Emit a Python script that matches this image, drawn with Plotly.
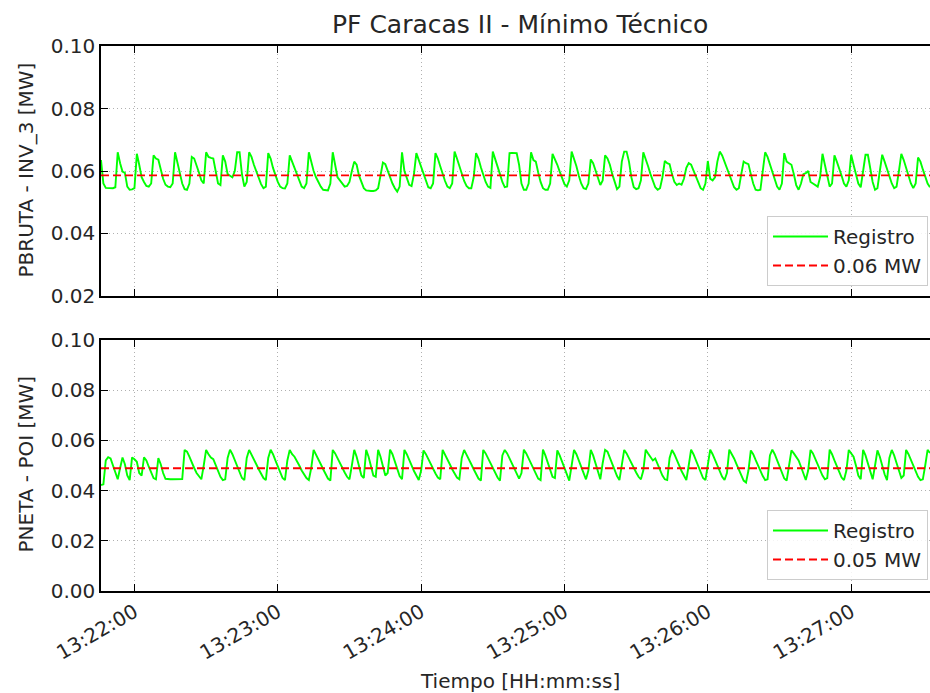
import pandas as pd
import plotly.graph_objects as go

# ---------------- data (1 s sampling, starting 13:21:46) ----------------
start_time = "2021-01-01 13:21:46"
sample_seconds = 1

pbruta_inv3 = [
    0.0635, 0.0560, 0.0546, 0.0545, 0.0545, 0.0545, 0.0548, 0.0660, 0.0625, 0.0598,
    0.0594, 0.0550, 0.0540, 0.0541, 0.0545, 0.0655, 0.0620, 0.0580, 0.0565, 0.0552,
    0.0550, 0.0560, 0.0650, 0.0640, 0.0636, 0.0600, 0.0575, 0.0556, 0.0550, 0.0548,
    0.0560, 0.0660, 0.0625, 0.0590, 0.0560, 0.0542, 0.0540, 0.0560, 0.0645, 0.0640,
    0.0620, 0.0595, 0.0570, 0.0560, 0.0660, 0.0645, 0.0642, 0.0640, 0.0600, 0.0560,
    0.0555, 0.0650, 0.0630, 0.0590, 0.0585, 0.0580, 0.0600, 0.0660, 0.0660, 0.0590,
    0.0550, 0.0565, 0.0660, 0.0645, 0.0620, 0.0598, 0.0575, 0.0558, 0.0545, 0.0550,
    0.0657, 0.0640, 0.0610, 0.0585, 0.0565, 0.0550, 0.0545, 0.0544, 0.0560, 0.0650,
    0.0630, 0.0605, 0.0585, 0.0565, 0.0550, 0.0545, 0.0560, 0.0660, 0.0630, 0.0600,
    0.0580, 0.0562, 0.0550, 0.0540, 0.0538, 0.0538, 0.0560, 0.0660, 0.0620, 0.0580,
    0.0570, 0.0560, 0.0550, 0.0552, 0.0565, 0.0600, 0.0630, 0.0620, 0.0585, 0.0565,
    0.0545, 0.0538, 0.0536, 0.0536, 0.0536, 0.0538, 0.0545, 0.0590, 0.0627, 0.0622,
    0.0600, 0.0580, 0.0560, 0.0545, 0.0534, 0.0550, 0.0660, 0.0600, 0.0575, 0.0556,
    0.0552, 0.0590, 0.0657, 0.0635, 0.0610, 0.0585, 0.0565, 0.0548, 0.0545, 0.0560,
    0.0657, 0.0640, 0.0615, 0.0590, 0.0568, 0.0550, 0.0545, 0.0560, 0.0662, 0.0640,
    0.0615, 0.0590, 0.0568, 0.0552, 0.0545, 0.0545, 0.0580, 0.0657, 0.0640, 0.0612,
    0.0588, 0.0565, 0.0550, 0.0546, 0.0662, 0.0640, 0.0615, 0.0590, 0.0565, 0.0548,
    0.0550, 0.0657, 0.0658, 0.0658, 0.0657, 0.0620, 0.0560, 0.0540, 0.0540, 0.0560,
    0.0660, 0.0635, 0.0630, 0.0595, 0.0565, 0.0545, 0.0540, 0.0540, 0.0560, 0.0655,
    0.0640, 0.0620, 0.0598, 0.0575, 0.0558, 0.0550, 0.0570, 0.0662, 0.0640, 0.0615,
    0.0585, 0.0560, 0.0545, 0.0542, 0.0560, 0.0637, 0.0625, 0.0600, 0.0575, 0.0555,
    0.0570, 0.0650, 0.0640, 0.0620, 0.0590, 0.0565, 0.0542, 0.0550, 0.0630, 0.0662,
    0.0662, 0.0630, 0.0580, 0.0548, 0.0542, 0.0545, 0.0570, 0.0660, 0.0640, 0.0615,
    0.0590, 0.0565, 0.0548, 0.0540, 0.0545, 0.0580, 0.0632, 0.0625, 0.0622, 0.0590,
    0.0565, 0.0555, 0.0560, 0.0556, 0.0575, 0.0610, 0.0625, 0.0620, 0.0600, 0.0580,
    0.0560, 0.0545, 0.0540, 0.0560, 0.0632, 0.0575, 0.0570, 0.0580, 0.0630, 0.0662,
    0.0650, 0.0630, 0.0610, 0.0590, 0.0565, 0.0548, 0.0540, 0.0545, 0.0590, 0.0630,
    0.0625, 0.0622, 0.0590, 0.0560, 0.0540, 0.0538, 0.0540, 0.0600, 0.0660, 0.0645,
    0.0620, 0.0595, 0.0570, 0.0550, 0.0540, 0.0560, 0.0657, 0.0630, 0.0625, 0.0620,
    0.0590, 0.0555, 0.0540, 0.0560, 0.0590, 0.0593, 0.0600, 0.0565, 0.0560, 0.0555,
    0.0550, 0.0580, 0.0655, 0.0620, 0.0580, 0.0550, 0.0560, 0.0650, 0.0630, 0.0610,
    0.0585, 0.0560, 0.0550, 0.0570, 0.0652, 0.0620, 0.0590, 0.0560, 0.0548, 0.0600,
    0.0652, 0.0652, 0.0610, 0.0565, 0.0540, 0.0545, 0.0600, 0.0652, 0.0630, 0.0605,
    0.0580, 0.0560, 0.0545, 0.0550, 0.0600, 0.0655, 0.0635, 0.0610, 0.0585, 0.0560,
    0.0545, 0.0560, 0.0643, 0.0630, 0.0605, 0.0580, 0.0560, 0.0548,
]

pneta_poi = [
    0.0422, 0.0425, 0.0520, 0.0533, 0.0528, 0.0500, 0.0470, 0.0445, 0.0490, 0.0532,
    0.0505, 0.0460, 0.0442, 0.0532, 0.0525, 0.0515, 0.0470, 0.0460, 0.0532, 0.0520,
    0.0495, 0.0470, 0.0450, 0.0445, 0.0529, 0.0505, 0.0470, 0.0447, 0.0445, 0.0445,
    0.0445, 0.0445, 0.0445, 0.0445, 0.0446, 0.0562, 0.0555, 0.0535, 0.0510, 0.0490,
    0.0470, 0.0455, 0.0445, 0.0500, 0.0562, 0.0545, 0.0532, 0.0525, 0.0500, 0.0475,
    0.0455, 0.0442, 0.0445, 0.0530, 0.0563, 0.0545, 0.0520, 0.0495, 0.0470, 0.0450,
    0.0442, 0.0530, 0.0562, 0.0545, 0.0525, 0.0505, 0.0485, 0.0465, 0.0450, 0.0442,
    0.0530, 0.0563, 0.0545, 0.0520, 0.0495, 0.0470, 0.0450, 0.0442, 0.0520, 0.0562,
    0.0545, 0.0535, 0.0520, 0.0500, 0.0480, 0.0462, 0.0450, 0.0442, 0.0490, 0.0562,
    0.0545, 0.0525, 0.0505, 0.0485, 0.0465, 0.0448, 0.0440, 0.0562, 0.0548, 0.0528,
    0.0508, 0.0490, 0.0472, 0.0455, 0.0445, 0.0500, 0.0562, 0.0535, 0.0495, 0.0460,
    0.0450, 0.0562, 0.0535, 0.0495, 0.0460, 0.0455, 0.0562, 0.0535, 0.0495, 0.0460,
    0.0470, 0.0563, 0.0545, 0.0515, 0.0485, 0.0458, 0.0445, 0.0562, 0.0545, 0.0525,
    0.0500, 0.0478, 0.0458, 0.0442, 0.0480, 0.0560, 0.0545, 0.0525, 0.0505, 0.0485,
    0.0468, 0.0452, 0.0445, 0.0562, 0.0545, 0.0525, 0.0505, 0.0485, 0.0468, 0.0452,
    0.0445, 0.0530, 0.0562, 0.0545, 0.0525, 0.0505, 0.0485, 0.0465, 0.0448, 0.0440,
    0.0562, 0.0548, 0.0528, 0.0508, 0.0488, 0.0470, 0.0452, 0.0440, 0.0540, 0.0562,
    0.0548, 0.0528, 0.0508, 0.0488, 0.0465, 0.0448, 0.0470, 0.0563, 0.0548, 0.0528,
    0.0505, 0.0485, 0.0465, 0.0448, 0.0442, 0.0563, 0.0540, 0.0510, 0.0480, 0.0455,
    0.0450, 0.0560, 0.0540, 0.0515, 0.0490, 0.0465, 0.0440, 0.0500, 0.0562, 0.0545,
    0.0520, 0.0495, 0.0470, 0.0445, 0.0480, 0.0562, 0.0540, 0.0505, 0.0470, 0.0445,
    0.0510, 0.0562, 0.0555, 0.0530, 0.0505, 0.0480, 0.0458, 0.0442, 0.0510, 0.0562,
    0.0548, 0.0528, 0.0508, 0.0490, 0.0472, 0.0455, 0.0445, 0.0480, 0.0563, 0.0548,
    0.0535, 0.0520, 0.0528, 0.0505, 0.0480, 0.0460, 0.0445, 0.0442, 0.0530, 0.0562,
    0.0545, 0.0525, 0.0500, 0.0478, 0.0458, 0.0442, 0.0500, 0.0563, 0.0545, 0.0520,
    0.0495, 0.0470, 0.0450, 0.0442, 0.0510, 0.0563, 0.0545, 0.0522, 0.0498, 0.0475,
    0.0455, 0.0442, 0.0470, 0.0563, 0.0548, 0.0528, 0.0505, 0.0482, 0.0460, 0.0440,
    0.0432, 0.0480, 0.0560, 0.0545, 0.0522, 0.0500, 0.0478, 0.0458, 0.0442, 0.0445,
    0.0540, 0.0563, 0.0545, 0.0520, 0.0495, 0.0470, 0.0448, 0.0440, 0.0500, 0.0560,
    0.0548, 0.0535, 0.0520, 0.0495, 0.0465, 0.0442, 0.0480, 0.0562, 0.0548, 0.0525,
    0.0502, 0.0480, 0.0460, 0.0445, 0.0450, 0.0563, 0.0545, 0.0520, 0.0495, 0.0470,
    0.0452, 0.0442, 0.0480, 0.0562, 0.0550, 0.0535, 0.0500, 0.0460, 0.0445, 0.0562,
    0.0540, 0.0510, 0.0475, 0.0445, 0.0500, 0.0560, 0.0535, 0.0500, 0.0465, 0.0442,
    0.0530, 0.0562, 0.0540, 0.0510, 0.0480, 0.0450, 0.0460, 0.0562, 0.0545, 0.0522,
    0.0498, 0.0475, 0.0455, 0.0442, 0.0445, 0.0500, 0.0562, 0.0550,
]

ref_top_value = 0.0586      # dashed reference, labelled "0.06 MW"
ref_bottom_value = 0.0489   # dashed reference, labelled "0.05 MW"
ref_top_label = "0.06 MW"
ref_bottom_label = "0.05 MW"
series_label = "Registro"

title_text = "PF Caracas II - Mínimo Técnico"
ylabel_top = "PBRUTA - INV_3 [MW]"
ylabel_bottom = "PNETA - POI [MW]"
xlabel = "Tiempo [HH:mm:ss]"

x_view = ["2021-01-01 13:21:46", "2021-01-01 13:27:33"]
first_tick = "2021-01-01 13:22:00"

# ---------------- figure ----------------
t_top = pd.date_range(start_time, periods=len(pbruta_inv3), freq=f"{sample_seconds}s")
t_bot = pd.date_range(start_time, periods=len(pneta_poi), freq=f"{sample_seconds}s")

FONT = "DejaVu Sans"
GREEN = "#00ff00"
RED = "#ff0000"
TXT = "#262626"

fig = go.Figure()
fig.add_trace(go.Scatter(x=t_top, y=pbruta_inv3, mode="lines", name=series_label,
                         line=dict(color=GREEN, width=1.9), xaxis="x", yaxis="y",
                         legend="legend"))
fig.add_trace(go.Scatter(x=[t_top[0], t_top[-1]], y=[ref_top_value, ref_top_value],
                         mode="lines", name=ref_top_label,
                         line=dict(color=RED, width=1.8, dash="8px,4px"),
                         xaxis="x", yaxis="y", legend="legend"))
fig.add_trace(go.Scatter(x=t_bot, y=pneta_poi, mode="lines", name=series_label,
                         line=dict(color=GREEN, width=1.9), xaxis="x2", yaxis="y2",
                         legend="legend2"))
fig.add_trace(go.Scatter(x=[t_bot[0], t_bot[-1]], y=[ref_bottom_value, ref_bottom_value],
                         mode="lines", name=ref_bottom_label,
                         line=dict(color=RED, width=1.8, dash="8px,4px"),
                         xaxis="x2", yaxis="y2", legend="legend2"))

axis_common = dict(
    showline=True, linecolor="black", linewidth=1.5,
    ticks="inside", ticklen=7, tickwidth=1.3, tickcolor="black",
    showgrid=True, gridcolor="#b0b0b0", gridwidth=1, griddash="1px,3px",
    zeroline=False, tickfont=dict(family=FONT, size=20, color=TXT),
)

legend_common = dict(
    xanchor="right", yanchor="bottom",
    bgcolor="rgba(255,255,255,0.85)", bordercolor="#cccccc", borderwidth=1,
    font=dict(family=FONT, size=20, color=TXT), tracegroupgap=0, itemwidth=55,
)

fig.update_layout(
    width=930, height=693,
    margin=dict(l=101, r=0, t=46, b=102),
    paper_bgcolor="white", plot_bgcolor="white",
    font=dict(family=FONT, size=20, color=TXT),
    xaxis=dict(axis_common, domain=[0, 1], anchor="y", range=x_view,
               type="date", tick0=first_tick, dtick=60000, mirror="ticks",
               showticklabels=False, matches="x2"),
    xaxis2=dict(axis_common, domain=[0, 1], anchor="y2", range=x_view,
                type="date", tick0=first_tick, dtick=60000, mirror="ticks",
                tickformat="%H:%M:%S", tickangle=-30),
    yaxis=dict(axis_common, domain=[0.5413, 1], anchor="x", range=[0.02, 0.10],
               dtick=0.02, tickformat=".2f"),
    yaxis2=dict(axis_common, domain=[0, 0.4606], anchor="x2", range=[0.0, 0.10],
                dtick=0.02, tickformat=".2f"),
    legend=dict(legend_common, x=0.9976, y=0.5596),
    legend2=dict(legend_common, x=0.9976, y=0.0202),
    showlegend=True,
)

fig.add_annotation(text=title_text, xref="paper", yref="paper",
                   x=(519.5 - 101) / 829, y=(591 - 24) / 545,
                   xanchor="center", yanchor="middle", showarrow=False,
                   font=dict(family=FONT, size=25, color=TXT))
fig.add_annotation(text=ylabel_top, xref="paper", yref="paper",
                   x=(25.5 - 101) / 829, y=(591 - 170) / 545, textangle=-90,
                   xanchor="center", yanchor="middle", showarrow=False,
                   font=dict(family=FONT, size=20, color=TXT))
fig.add_annotation(text=ylabel_bottom, xref="paper", yref="paper",
                   x=(25.5 - 101) / 829, y=(591 - 464) / 545, textangle=-90,
                   xanchor="center", yanchor="middle", showarrow=False,
                   font=dict(family=FONT, size=20, color=TXT))
fig.add_annotation(text=xlabel, xref="paper", yref="paper",
                   x=(520 - 101) / 829, y=(591 - 681) / 545,
                   xanchor="center", yanchor="middle", showarrow=False,
                   font=dict(family=FONT, size=20, color=TXT))

fig.write_html("out.html",
               config={"displayModeBar": False},
               post_script="document.body.style.margin='0';"
                           "document.body.style.overflow='hidden';")
